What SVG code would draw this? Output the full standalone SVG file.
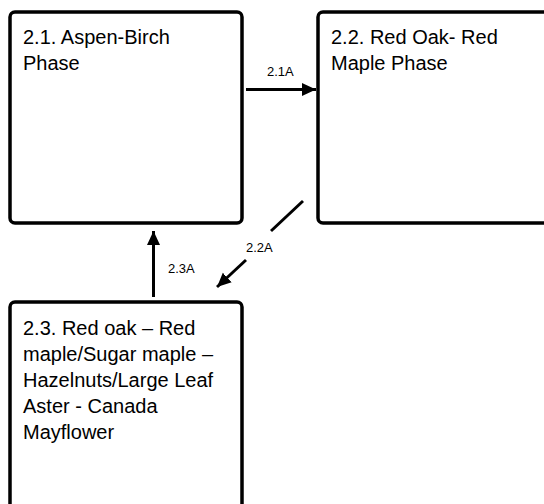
<svg xmlns="http://www.w3.org/2000/svg" width="544" height="504" viewBox="0 0 544 504">
<style>
.box{fill:#fff;stroke:#000;stroke-width:3.5}
.t{font-family:"Liberation Sans",Arial,sans-serif;font-size:20px;fill:#000}
.lbl{font-family:"Liberation Sans",Arial,sans-serif;font-size:13px;fill:#000}
.c{stroke:#000;stroke-width:3;fill:none}
</style>
<defs>
<marker id="ah" markerUnits="userSpaceOnUse" markerWidth="15" markerHeight="15" viewBox="0 0 15 15" refX="14" refY="7.5" orient="auto">
<path d="M0,1 L14,7.5 L0,14 Z" fill="#000"/>
</marker>
</defs>
<rect width="544" height="504" fill="#fff"/>
<g id="node-2-1">
<rect class="box" x="10" y="12" width="232" height="211" rx="5"/>
<text class="t" x="23" y="44">2.1. Aspen-Birch</text>
<text class="t" x="23" y="70">Phase</text>
</g>
<g id="node-2-2">
<rect class="box" x="318" y="12" width="250" height="211" rx="5"/>
<text class="t" x="331" y="44">2.2. Red Oak- Red</text>
<text class="t" x="331" y="70">Maple Phase</text>
</g>
<g id="node-2-3">
<rect class="box" x="10" y="302" width="232" height="230" rx="5"/>
<text class="t" x="23" y="335">2.3. Red oak – Red</text>
<text class="t" x="23" y="361">maple/Sugar maple –</text>
<text class="t" x="23" y="387">Hazelnuts/Large Leaf</text>
<text class="t" x="23" y="413">Aster - Canada</text>
<text class="t" x="23" y="439">Mayflower</text>
</g>
<g id="connectors">
<line class="c" x1="246" y1="89.5" x2="316" y2="89.5" marker-end="url(#ah)"/>
<text class="lbl" x="267" y="76">2.1A</text>
<line class="c" x1="303" y1="201" x2="271" y2="231"/>
<line class="c" x1="246" y1="260" x2="217" y2="287" marker-end="url(#ah)"/>
<text class="lbl" x="246" y="252">2.2A</text>
<line class="c" x1="153.5" y1="297" x2="153.5" y2="231" marker-end="url(#ah)"/>
<text class="lbl" x="168" y="273">2.3A</text>
</g>
</svg>
